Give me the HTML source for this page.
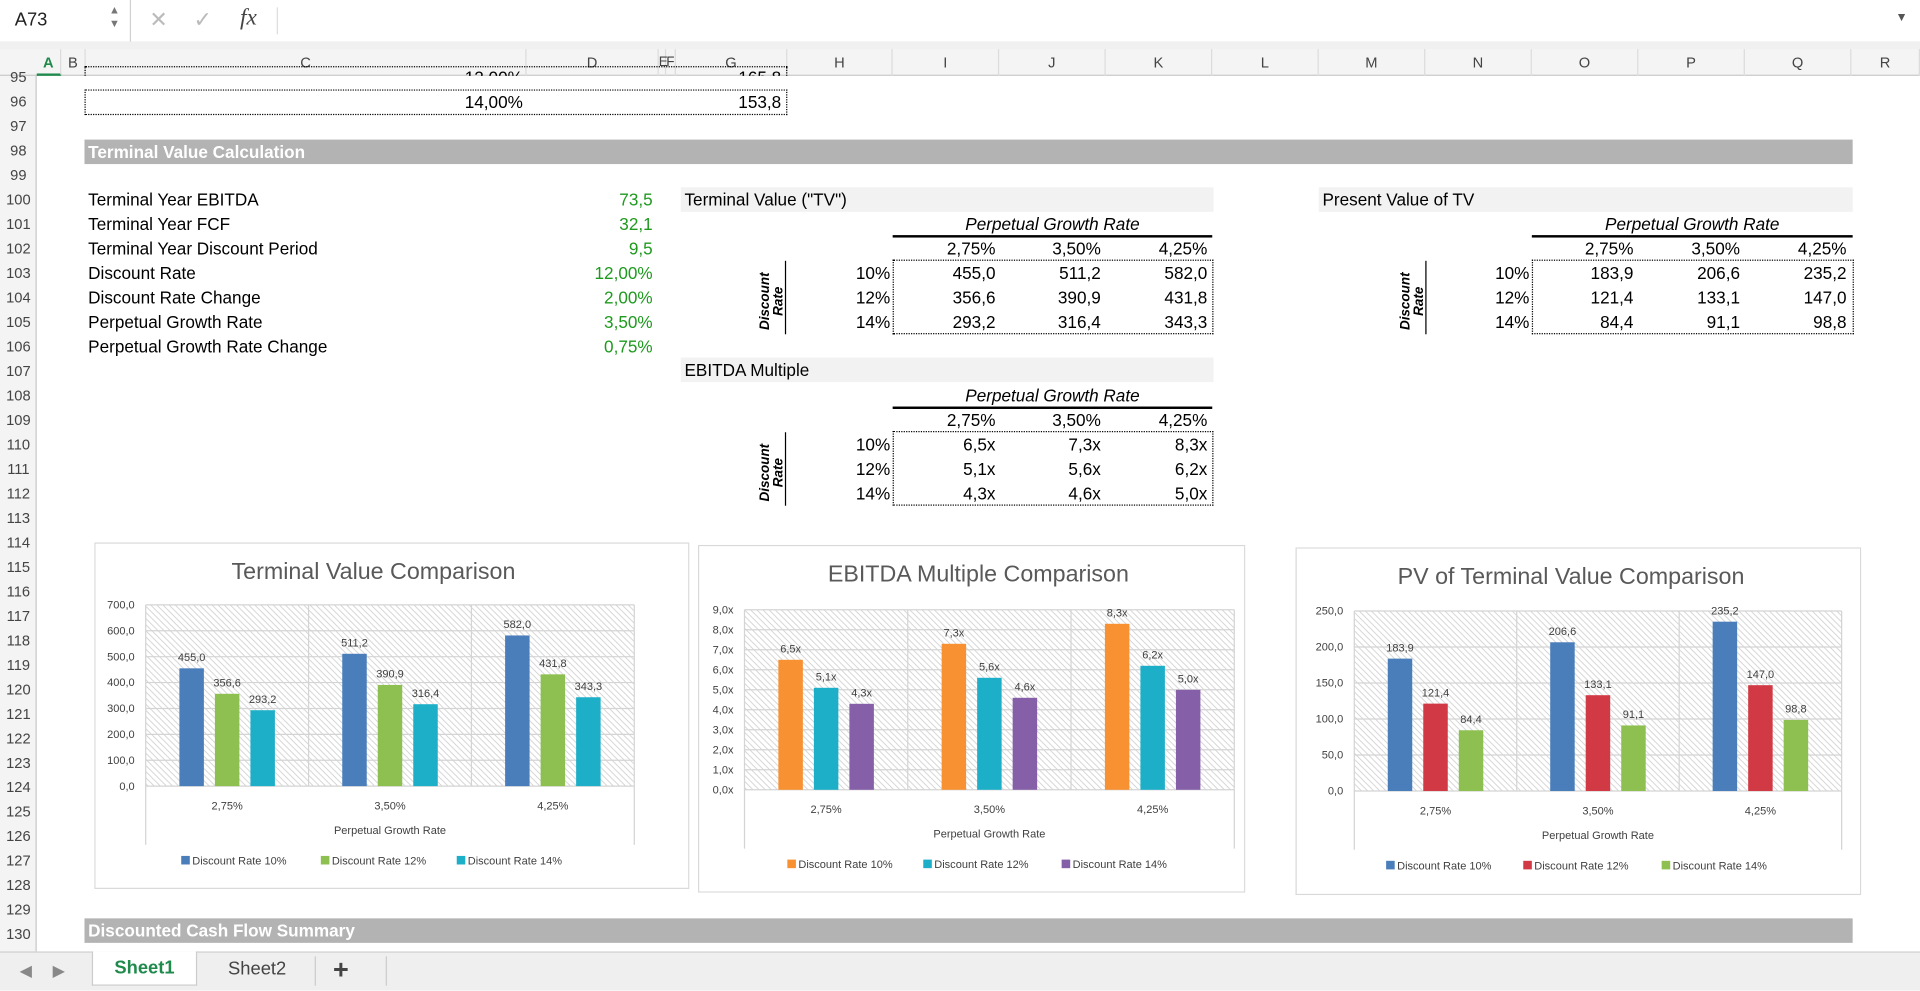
<!DOCTYPE html>
<html><head><meta charset="utf-8">
<style>
html,body{margin:0;padding:0;width:1920px;height:991px;overflow:hidden;background:#fff;font-family:"Liberation Sans",Arial,sans-serif;}
#wrap{position:absolute;left:0;top:0;width:1568px;height:809px;transform:scale(1.22449);transform-origin:0 0;}
.a{position:absolute;white-space:nowrap;}
.t{font-size:14px;color:#000;line-height:20px;}
.r{text-align:right;}
.g{color:#1f9a1f;}
.band{position:absolute;background:#b3b3b3;color:#fff;font-weight:bold;font-size:14px;line-height:20px;padding-left:3px;box-sizing:border-box;}
.lband{position:absolute;background:#f2f2f2;font-size:14px;line-height:20px;padding-left:3px;box-sizing:border-box;}
.colh{position:absolute;top:40px;height:22px;line-height:22px;font-size:12px;color:#444;text-align:center;border-right:1px solid #dcdcdc;box-sizing:border-box;}
.rowh{position:absolute;left:0;width:30px;height:20px;line-height:20px;font-size:12px;color:#444;text-align:center;}
.dot{position:absolute;border:1px dotted #000;box-sizing:border-box;}
</style></head><body>
<div id="wrap">
  <!-- formula bar -->
  <div class="a" style="left:0;top:0;width:1568px;height:34px;background:#fff;border-bottom:1px solid #cfcfcf;"></div>
  <div class="a" style="left:12px;top:8px;font-size:15px;color:#222;">A73</div>
  <div class="a" style="left:89px;top:3px;font-size:9px;color:#777;line-height:11px;">▲<br>▼</div>
  <div class="a" style="left:106px;top:0;width:1px;height:34px;background:#d0d0d0;"></div>
  <div class="a" style="left:122px;top:6px;font-size:18px;color:#bbb;">✕</div>
  <div class="a" style="left:158px;top:6px;font-size:18px;color:#bbb;">✓</div>
  <div class="a" style="left:196px;top:4px;font-size:19px;font-style:italic;font-family:'Liberation Serif',serif;color:#444;">fx</div>
  <div class="a" style="left:226px;top:6px;width:1px;height:22px;background:#ddd;"></div>
  <div class="a" style="left:228px;top:4px;width:1310px;height:26px;"></div>
  <div class="a" style="left:1548px;top:9px;font-size:10px;color:#555;">▼</div>
  <div class="a" style="left:0;top:34px;width:1568px;height:6px;background:#f0f0f0;"></div>
  <!-- column headers -->
  <div class="a" style="left:0;top:40px;width:1568px;height:22px;background:#f4f4f4;border-bottom:1px solid #c8c8c8;box-sizing:border-box;"></div>
  <div id="cols"></div>
  <div class="a" style="left:0;top:62px;width:30px;height:715px;background:#f4f4f4;border-right:1px solid #c8c8c8;box-sizing:border-box;"></div>
  <div id="rows"></div>

  <!-- rows 95-96 -->
  <div class="dot" style="left:69px;top:54px;width:574px;height:40px;"></div>
  <div class="dot" style="left:69px;top:73px;width:574px;height:1px;border-width:1px 0 0 0;"></div>
  <div class="a t r" style="left:300px;top:53px;width:127px;">12,00%</div>
  <div class="a t r" style="left:540px;top:53px;width:98px;">165,8</div>
  <div class="a t r" style="left:300px;top:73px;width:127px;">14,00%</div>
  <div class="a t r" style="left:540px;top:73px;width:98px;">153,8</div>
  <div class="a" style="left:31px;top:62px;width:1537px;height:11px;background:#fff;"></div>

  <div class="band" style="left:69px;top:114px;width:1444px;height:20px;">Terminal Value Calculation</div>

  <!-- assumptions -->
  <div id="assump"></div>

  <!-- TV table -->
  <div class="lband" style="left:556px;top:153px;width:435px;height:20px;">Terminal Value ("TV")</div>
  <div class="lband" style="left:556px;top:292px;width:435px;height:20px;">EBITDA Multiple</div>
  <div class="lband" style="left:1077px;top:153px;width:436px;height:20px;">Present Value of TV</div>
  <div id="tables"></div>

  <div class="band" style="left:69px;top:750px;width:1444px;height:20px;">Discounted Cash Flow Summary</div>

  <!-- charts -->
  <svg id="c1" class="a" style="left:77px;top:443px;" width="486" height="283"></svg>
  <svg id="c2" class="a" style="left:570px;top:445px;" width="447" height="284"></svg>
  <svg id="c3" class="a" style="left:1058px;top:447px;" width="462" height="284"></svg>

  <!-- tab bar -->
  <div class="a" style="left:0;top:777px;width:1568px;height:32px;background:#efefef;border-top:1px solid #cfcfcf;box-sizing:border-box;"></div>
  <div class="a" style="left:16px;top:785px;font-size:13px;color:#888;">◀</div>
  <div class="a" style="left:43px;top:785px;font-size:13px;color:#888;">▶</div>
  <div class="a" style="left:75px;top:777px;width:86px;height:28px;background:#fff;border:1px solid #ccc;border-top:none;color:#1f8a4c;font-weight:bold;font-size:15px;line-height:28px;text-align:center;box-sizing:border-box;">Sheet1</div>
  <div class="a" style="left:165px;top:777px;width:90px;height:28px;color:#444;font-size:15px;line-height:30px;text-align:center;">Sheet2</div>
  <div class="a" style="left:257px;top:781px;width:1px;height:24px;background:#ccc;"></div>
  <div class="a" style="left:272px;top:779px;font-size:22px;color:#444;font-weight:bold;">+</div>
  <div class="a" style="left:315px;top:781px;width:1px;height:24px;background:#ccc;"></div>
</div>

<script>
// ---- chart data ----
const categories = ["2,75%", "3,50%", "4,25%"];
const seriesNames = ["Discount Rate 10%", "Discount Rate 12%", "Discount Rate 14%"];
const tvRate10 = [455.0, 511.2, 582.0];
const tvRate12 = [356.6, 390.9, 431.8];
const tvRate14 = [293.2, 316.4, 343.3];
const multRate10 = [6.5, 7.3, 8.3];
const multRate12 = [5.1, 5.6, 6.2];
const multRate14 = [4.3, 4.6, 5.0];
const pvRate10 = [183.9, 206.6, 235.2];
const pvRate12 = [121.4, 133.1, 147.0];
const pvRate14 = [84.4, 91.1, 98.8];
const tvTicks = [0, 100, 200, 300, 400, 500, 600, 700];
const multTicks = [0, 1, 2, 3, 4, 5, 6, 7, 8, 9];
const pvTicks = [0, 50, 100, 150, 200, 250];

const NS = "http://www.w3.org/2000/svg";
function fmt(v, suf) { return v.toFixed(1).replace(".", ",") + (suf || ""); }

// ---- sheet grid ----
const colDefs = [["A",30,50],["B",50,70],["C",70,430],["D",430,538],["E",538,544],["F",544,552],["G",552,643],["H",643,729],["I",729,816],["J",816,903],["K",903,990],["L",990,1077],["M",1077,1164],["N",1164,1251],["O",1251,1338],["P",1338,1425],["Q",1425,1512],["R",1512,1568]];
const colsEl = document.getElementById("cols");
colDefs.forEach(c => {
  const d = document.createElement("div");
  d.className = "colh";
  d.style.left = c[1] + "px"; d.style.width = (c[2] - c[1]) + "px";
  if (c[0] === "A") { d.style.color = "#1f8a4c"; d.style.fontWeight = "bold"; d.style.borderBottom = "2px solid #1f8a4c"; }
  if (c[0] === "E" || c[0] === "F") d.style.fontSize = "11px";
  d.textContent = c[0];
  
  
  colsEl.appendChild(d);
});
const rowsEl = document.getElementById("rows");
for (let n = 95; n <= 131; n++) {
  const top = 73 + (n - 96) * 20;
  const d = document.createElement("div");
  d.className = "rowh";
  d.style.top = top + "px";
  d.textContent = n;
  
  
  rowsEl.appendChild(d);
}
function rowTop(n) { return 73 + (n - 96) * 20; }

// assumptions
const assumpLabels = ["Terminal Year EBITDA","Terminal Year FCF","Terminal Year Discount Period","Discount Rate","Discount Rate Change","Perpetual Growth Rate","Perpetual Growth Rate Change"];
const assumpValues = ["73,5","32,1","9,5","12,00%","2,00%","3,50%","0,75%"];
const aEl = document.getElementById("assump");
assumpLabels.forEach((l, i) => {
  const d = document.createElement("div");
  d.className = "a t"; d.style.left = "72px"; d.style.top = rowTop(100 + i) + "px";
  d.textContent = l;
  
  
  aEl.appendChild(d);
  const v = document.createElement("div");
  v.className = "a t r g"; v.style.left = "433px"; v.style.width = "100px"; v.style.top = rowTop(100 + i) + "px";
  v.textContent = assumpValues[i];
  
  
  aEl.appendChild(v);
});

// sensitivity tables
const tEl = document.getElementById("tables");
function table(name, firstRow, labelRight, lineX, colRights, boxL, boxR, vals, suf) {
  const mk = (cls, css, txt, nm, inter) => {
    const d = document.createElement("div");
    d.className = cls; d.style.cssText = css; if (txt !== null) d.textContent = txt;
    
    
    tEl.appendChild(d); return d;
  };
  const t0 = rowTop(firstRow);
  mk("a t", `left:${boxL}px;width:${boxR-boxL}px;top:${t0}px;text-align:center;font-style:italic;`, "Perpetual Growth Rate", name + "-growth-header", "false");
  mk("a", `left:${boxL}px;width:${boxR-boxL}px;top:${t0+19}px;height:2px;background:#000;`, null, name + "-header-rule", "false");
  categories.forEach((c, j) => mk("a t r", `left:${colRights[j]-80}px;width:80px;top:${t0+20}px;`, c, name + "-col-header", "false"));
  mk("dot", `left:${boxL}px;top:${t0+39}px;width:${boxR-boxL+1}px;height:61px;`, null, name + "-values-border", "false");
  mk("a", `left:${lineX}px;top:${t0+40}px;width:1px;height:60px;background:#000;`, null, name + "-rate-rule", "false");
  mk("a", `left:${lineX-40}px;top:${t0+62}px;width:60px;transform:rotate(-90deg);font-size:11px;line-height:11px;font-style:italic;font-weight:bold;text-align:center;white-space:normal;`, "Discount Rate", name + "-discount-label", "false");
  ["10%","12%","14%"].forEach((r, i) => {
    mk("a t r", `left:${labelRight-60}px;width:60px;top:${t0+40+i*20}px;`, r, name + "-row-label", "false");
    vals[i].forEach((v, j) => mk("a t r", `left:${colRights[j]-80}px;width:80px;top:${t0+40+i*20}px;`, fmt(v, suf), name + "-cell", "true"));
  });
}
const tvRows = [tvRate10, tvRate12, tvRate14];
const multRows = [multRate10, multRate12, multRate14];
const pvRows = [pvRate10, pvRate12, pvRate14];
table("tv-table", 101, 727, 641, [813, 899, 986], 729, 990, tvRows, "");
table("ebitda-table", 108, 727, 641, [813, 899, 986], 729, 990, multRows, "x");
table("pv-table", 101, 1249, 1164, [1334, 1421, 1508], 1251, 1513, pvRows, "");

// ---- charts ----
function el(parent, tag, attrs, txt) {
  const e = document.createElementNS(NS, tag);
  for (const k in attrs) e.setAttribute(k, attrs[k]);
  if (txt !== undefined) e.textContent = txt;
  parent.appendChild(e); return e;
}
function chart(id, title, W, H, plot, ticks, series, colors, suf, legendX, pid) {
  const svg = document.getElementById(id);
  const defs = el(svg, "defs", {});
  const pat = el(defs, "pattern", {id: pid, width: 5, height: 5, patternUnits: "userSpaceOnUse"});
  
  
  el(pat, "path", {d: "M-1,-1 L6,6 M-1,4 L1,6 M4,-1 L6,1", stroke: "#cfcfcf", "stroke-width": 0.7});
  const box = el(svg, "rect", {x: 0.5, y: 0.5, width: W - 1, height: H - 1, fill: "#fff", stroke: "#d9d9d9"});
  
  
  const tt = el(svg, "text", {x: plot.cx, y: 30, "text-anchor": "middle", "font-size": 19, fill: "#595959"}, title);
  
  
  const max = ticks[ticks.length - 1];
  const y = v => plot.y + plot.h - v / max * plot.h;
  const x = i => plot.x + (i + 0.5) * plot.w / categories.length;
  const bg = el(svg, "rect", {x: plot.x, y: plot.y, width: plot.w, height: plot.h, fill: `url(#${pid})`});
  
  
  ticks.forEach(t => {
    const ln = el(svg, "line", {x1: plot.x, x2: plot.x + plot.w, y1: y(t), y2: y(t), stroke: "#d4d4d4", "stroke-width": 1});
    
    
    const lb = el(svg, "text", {x: plot.x - 9, y: y(t) + 3, "text-anchor": "end", "font-size": 9, fill: "#404040"}, fmt(t, suf));
    
    
  });
  for (let k = 0; k <= categories.length; k++) {
    const xx = plot.x + k * plot.w / categories.length;
    const ext = (k === 0 || k === categories.length) ? 48 : 0;
    const vl = el(svg, "line", {x1: xx, x2: xx, y1: plot.y, y2: plot.y + plot.h + ext, stroke: "#d4d4d4", "stroke-width": 1});
    
    
  }
  const bw = 20, gap = 29;
  categories.forEach((c, i) => {
    series.forEach((s, j) => {
      const bx = x(i) + (j - 1) * gap - bw / 2;
      const r = el(svg, "rect", {x: bx, y: y(s[i]), width: bw, height: y(0) - y(s[i]), fill: colors[j]});
      
      
      const lb = el(svg, "text", {x: bx + bw / 2, y: y(s[i]) - 6, "text-anchor": "middle", "font-size": 9, fill: "#404040"}, fmt(s[i], suf));
      
      
    });
    const cl = el(svg, "text", {x: x(i), y: plot.y + plot.h + 19, "text-anchor": "middle", "font-size": 9, fill: "#404040"}, c);
    
    
  });
  const at = el(svg, "text", {x: plot.x + plot.w / 2, y: plot.y + plot.h + 39, "text-anchor": "middle", "font-size": 9, fill: "#404040"}, "Perpetual Growth Rate");
  
  
  seriesNames.forEach((n, j) => {
    const g = el(svg, "g", {});
    
    
    el(g, "rect", {x: legendX[j], y: plot.y + plot.h + 57, width: 7, height: 7, fill: colors[j]});
    el(g, "text", {x: legendX[j] + 9, y: plot.y + plot.h + 64, "font-size": 9, fill: "#404040"}, n);
  });
}
chart("c1", "Terminal Value Comparison", 486, 283, {x: 42, y: 51, w: 399, h: 148, cx: 228}, tvTicks,
  [tvRate10, tvRate12, tvRate14], ["#4a7ebb", "#8dc051", "#1eafc8"], "", [71, 185, 296], "h1");
chart("c2", "EBITDA Multiple Comparison", 447, 284, {x: 38, y: 53, w: 400, h: 147, cx: 229}, multTicks,
  [multRate10, multRate12, multRate14], ["#f79131", "#1eafc8", "#8560a8"], "x", [73, 184, 297], "h2");
chart("c3", "PV of Terminal Value Comparison", 462, 284, {x: 48, y: 52, w: 398, h: 147, cx: 225}, pvTicks,
  [pvRate10, pvRate12, pvRate14], ["#4a7ebb", "#d13a45", "#8dc051"], "", [74, 186, 299], "h3");
</script>
</body></html>
